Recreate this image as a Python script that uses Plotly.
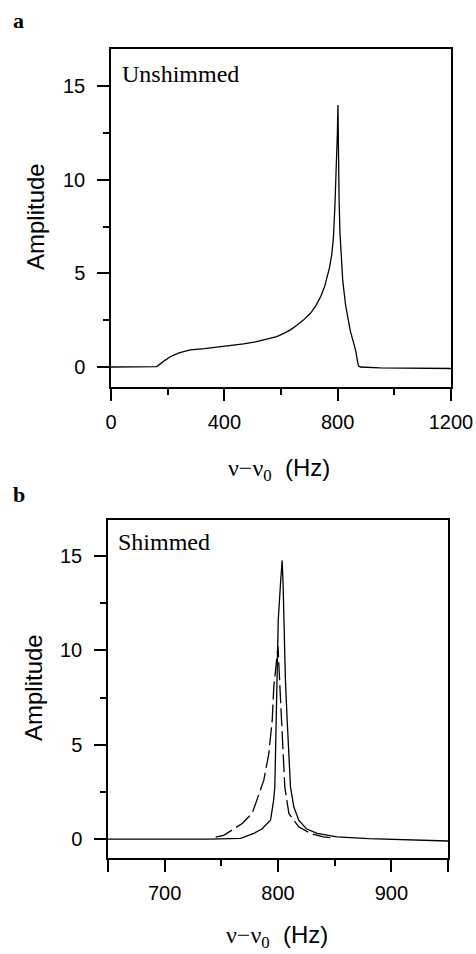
import plotly.graph_objects as go

# ---- Panel a: unshimmed spectrum ----
a_freq = [0, 156, 162, 185, 209, 240, 280, 330, 374, 420, 468, 510, 551, 585, 610, 635, 657,
          680, 704, 722, 740, 755, 763, 771, 779, 785, 790, 795, 799, 801, 802.5, 805, 808,
          813, 818, 828, 836, 845, 856, 864, 870, 874, 880, 950, 1200]
a_amp = [0, 0, 0.02, 0.3, 0.55, 0.75, 0.91, 0.98, 1.05, 1.13, 1.23, 1.34, 1.48, 1.62, 1.80, 2.0, 2.25,
         2.52, 2.87, 3.25, 3.76, 4.35, 4.83, 5.3, 6.0, 6.9, 8.5, 10.5, 12.5, 14.0, 11.5, 9.0, 7.2,
         5.5, 4.6, 3.3, 2.6, 1.9, 1.3, 0.85, 0.3, 0.05, 0.0, -0.05, -0.08]

# ---- Panel b: shimmed spectra ----
b_solid_freq = [650, 700, 740, 767, 778.7, 786, 793.4, 796, 797.2, 798.4, 799.2, 800.2, 802.5,
                803.7, 804.5, 805.1, 806.5, 808.1, 809.5, 811, 814, 818.3, 825, 834.5, 852, 880, 950]
b_solid_amp = [0, 0, 0.0, 0.04, 0.3, 0.55, 1.0, 2.0, 2.77, 6.3, 8.5, 11.59, 13.8,
               14.76, 13.5, 11.6, 8.5, 6.3, 4.5, 2.77, 1.7, 1.0, 0.55, 0.3, 0.12, 0.03, -0.1]

b_dash_freq = [745, 752, 760, 768.4, 777.2, 783.1, 787.5, 791.9, 794.9, 796.3, 799.3, 800,
               801.7, 803.1, 804.6, 806, 809.6, 818.3, 828.6, 840, 850]
b_dash_amp = [0.1, 0.2, 0.5, 0.83, 1.36, 2.42, 3.12, 4.53, 6.3, 8.06, 10.0, 10.2,
              8.06, 6.3, 4.53, 2.77, 1.36, 0.65, 0.3, 0.12, 0.06]

a_xticks = [0, 400, 800, 1200]
a_xminor = [200, 600, 1000]
b_xticks = [650, 700, 800, 900, 950]
b_xticklabels = ["", "700", "800", "900", ""]
b_xminor = [750, 850]
yticks = [0, 5, 10, 15]
yminor = [2.5, 7.5, 12.5]

W, H = 476, 954
def px(x):
    return x / W
def py(y):
    return 1 - y / H

fig = go.Figure()
fig.add_trace(go.Scatter(x=a_freq, y=a_amp, mode="lines", line=dict(color="black", width=1.3),
                         xaxis="x", yaxis="y", showlegend=False))
fig.add_trace(go.Scatter(x=b_solid_freq, y=b_solid_amp, mode="lines", line=dict(color="black", width=1.3),
                         xaxis="x2", yaxis="y2", showlegend=False))
fig.add_trace(go.Scatter(x=b_dash_freq, y=b_dash_amp, mode="lines",
                         line=dict(color="black", width=1.3, dash="18px,5px"),
                         xaxis="x2", yaxis="y2", showlegend=False))

tickfont = dict(family="Liberation Sans, Arial, sans-serif", size=20, color="black")
common_axis = dict(showline=True, linecolor="black", linewidth=1.5, mirror=True, ticks="outside",
                   ticklen=12, tickwidth=1.5, tickcolor="black", showgrid=False, zeroline=False,
                   tickfont=tickfont, automargin=False)

def minor(vals):
    return dict(tickmode="array", tickvals=vals, ticks="outside", ticklen=6,
                tickwidth=1.5, tickcolor="black", showgrid=False)

fig.update_layout(
    width=W, height=H, margin=dict(l=0, r=0, t=0, b=0, autoexpand=False),
    paper_bgcolor="white", plot_bgcolor="white",
    xaxis=dict(domain=[px(111), px(451)], range=[0, 1200], anchor="y",
               tickmode="array", tickvals=a_xticks, ticklabelstandoff=4,
               minor=minor(a_xminor), **common_axis),
    yaxis=dict(domain=[py(387), py(49)], range=[-1.07, 17.0], anchor="x",
               tickmode="array", tickvals=yticks, ticklabelstandoff=8,
               minor=minor(yminor), **common_axis),
    xaxis2=dict(domain=[px(108), px(448)], range=[650, 950], anchor="y2",
                tickmode="array", tickvals=b_xticks, ticktext=b_xticklabels, ticklabelstandoff=4,
                minor=minor(b_xminor), **common_axis),
    yaxis2=dict(domain=[py(858), py(520)], range=[-1.0, 16.9], anchor="x2",
                tickmode="array", tickvals=yticks, ticklabelstandoff=8,
                minor=minor(yminor), **common_axis),
)

serif = "Liberation Serif, Times New Roman, serif"
sans = "Liberation Sans, Arial, sans-serif"
xtitle = ('<span style="font-family:Liberation Serif">ν−ν<sub>0</sub></span>'
          '  (Hz)')

annots = [
    dict(text="<b>a</b>", x=px(11), y=py(20), xanchor="left", yanchor="middle",
         font=dict(family=serif, size=22, color="black")),
    dict(text="<b>b</b>", x=px(11), y=py(494), xanchor="left", yanchor="middle",
         font=dict(family=serif, size=22, color="black")),
    dict(text="Unshimmed", x=px(120), y=py(74), xanchor="left", yanchor="middle",
         font=dict(family=serif, size=24, color="black")),
    dict(text="Shimmed", x=px(116), y=py(542), xanchor="left", yanchor="middle",
         font=dict(family=serif, size=24, color="black")),
    dict(text="Amplitude", x=px(35), y=py(217), xanchor="center", yanchor="middle", textangle=-90,
         font=dict(family=sans, size=24, color="black")),
    dict(text="Amplitude", x=px(33), y=py(688), xanchor="center", yanchor="middle", textangle=-90,
         font=dict(family=sans, size=24, color="black")),
    dict(text=xtitle, x=px(279), y=py(469), xanchor="center", yanchor="middle",
         font=dict(family=sans, size=24, color="black")),
    dict(text=xtitle, x=px(277), y=py(936), xanchor="center", yanchor="middle",
         font=dict(family=sans, size=24, color="black")),
]
for a in annots:
    a.update(xref="paper", yref="paper", showarrow=False)
fig.update_layout(annotations=annots)

fig.write_html("out.html", config={"displayModeBar": False},
               post_script="document.body.style.margin='0';document.body.style.overflow='hidden';")
